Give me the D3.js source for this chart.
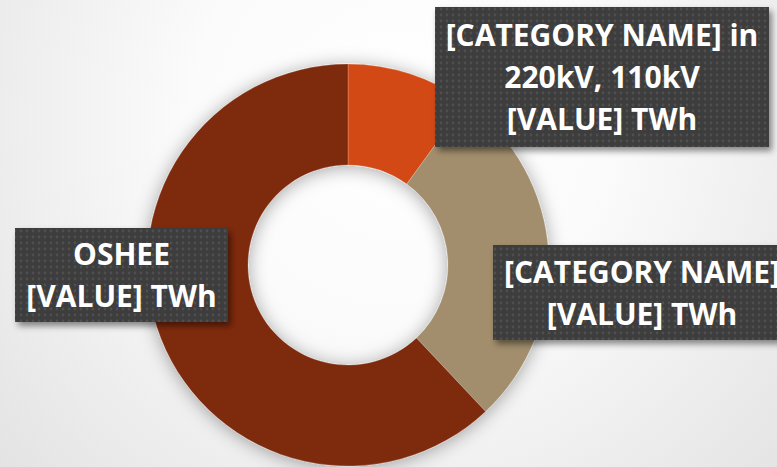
<!DOCTYPE html>
<html>
<head>
<meta charset="utf-8">
<script src="https://cdn.jsdelivr.net/npm/d3@7"></script>
<style>
  html, body { margin: 0; padding: 0; overflow: hidden; }
  svg { display: block; }
</style>
</head>
<body>
<svg id="chart" width="777" height="467"></svg>
<script>
// ---- data ----
const categories = ["[CATEGORY NAME] in 220kV, 110kV", "[CATEGORY NAME]", "OSHEE"];
const values = [10, 28, 62];
const labelLines = [
  ["[CATEGORY NAME] in", "220kV, 110kV", "[VALUE] TWh"],
  ["[CATEGORY NAME]", "[VALUE] TWh"],
  ["OSHEE", "[VALUE] TWh"]
];
const colors = ["#D34A17", "#A28E6C", "#7E2B0F"];

// ---- layout (not data) ----
const W = 777, H = 467;
const cx = 348, cy = 265, R = 201, r = 100;
const boxes = [
  { x: 435, y: 7, w: 334, h: 140 },
  { x: 493, y: 245, w: 298, h: 95 },
  { x: 15, y: 228, w: 213, h: 94 }
];
const lineGap = 42;
const fontSize = 30;

const svg = d3.select("#chart");
const defs = svg.append("defs");

const bg = defs.append("radialGradient").attr("id", "bg")
  .attr("gradientUnits", "userSpaceOnUse")
  .attr("cx", 400).attr("cy", 120).attr("r", 600);
bg.append("stop").attr("offset", 0).attr("stop-color", "#ffffff");
bg.append("stop").attr("offset", 0.35).attr("stop-color", "#fbfbfb");
bg.append("stop").attr("offset", 1).attr("stop-color", "#dedede");

const sh = defs.append("filter").attr("id", "donutShadow")
  .attr("x", "-30%").attr("y", "-30%").attr("width", "160%").attr("height", "160%");
sh.append("feDropShadow").attr("dx", 0).attr("dy", 2).attr("stdDeviation", 9)
  .attr("flood-color", "#000").attr("flood-opacity", 0.35);

const bsh = defs.append("filter").attr("id", "boxShadow")
  .attr("x", "-20%").attr("y", "-20%").attr("width", "140%").attr("height", "140%");
bsh.append("feDropShadow").attr("dx", 3).attr("dy", 4).attr("stdDeviation", 3)
  .attr("flood-color", "#000").attr("flood-opacity", 0.45);

const pat = defs.append("pattern").attr("id", "dots")
  .attr("patternUnits", "userSpaceOnUse").attr("width", 6).attr("height", 6);
pat.append("rect").attr("width", 6).attr("height", 6).attr("fill", "#3d3d3d");
pat.append("circle").attr("cx", 3).attr("cy", 3).attr("r", 1.4).attr("fill", "#505050");

svg.append("rect").attr("width", W).attr("height", H).attr("fill", "url(#bg)");

const pie = d3.pie().sort(null).value(d => d)(values);
const arc = d3.arc().innerRadius(r).outerRadius(R);

const g = svg.append("g").attr("transform", `translate(${cx},${cy})`);
g.append("g").attr("filter", "url(#donutShadow)")
  .selectAll("path").data(pie).join("path")
  .attr("d", arc)
  .attr("fill", (d, i) => colors[i])
  .attr("stroke", "rgba(255,255,255,0.35)")
  .attr("stroke-width", 0.6);

const lab = svg.append("g").selectAll("g").data(boxes).join("g");
lab.append("rect")
  .attr("x", d => d.x).attr("y", d => d.y)
  .attr("width", d => d.w).attr("height", d => d.h)
  .attr("fill", "url(#dots)")
  .attr("filter", "url(#boxShadow)");
lab.each(function(b, i) {
  const lines = labelLines[i];
  const n = lines.length;
  const mid = b.y + b.h / 2;
  d3.select(this).selectAll("text").data(lines).join("text")
    .attr("x", b.x + b.w / 2)
    .attr("y", (t, j) => mid + (j - (n - 1) / 2) * lineGap + 11)
    .attr("text-anchor", "middle")
    .attr("fill", "#ffffff")
    .attr("font-family", "'Open Sans', sans-serif")
    .attr("font-weight", 700)
    .attr("font-size", fontSize)
    .text(t => t);
});
</script>
</body>
</html>
